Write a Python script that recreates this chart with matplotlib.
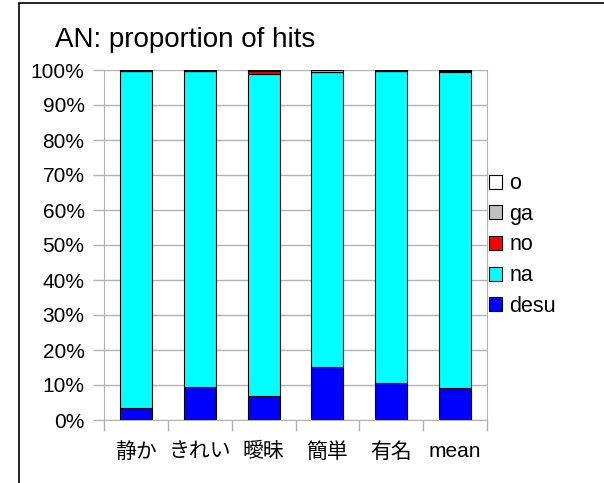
import numpy as np
import matplotlib
matplotlib.use("Agg")
import matplotlib.pyplot as plt
from matplotlib.patches import Rectangle

plt.rcParams['font.family'] = ['Liberation Sans', 'Noto Sans CJK JP', 'DejaVu Sans']

# data (percent of hits)
categories = ['静か', 'きれい', '曖昧', '簡単', '有名', 'mean']
desu = [3.4, 9.5, 6.9, 15.1, 10.5, 9.1]
no = [0.1, 0.1, 0.9, 0.2, 0.1, 0.2]
ga = [0.1, 0.2, 0.2, 0.4, 0.2, 0.3]
o = [0.1, 0.1, 0.1, 0.1, 0.1, 0.1]
na = [100 - a - b - c - d for a, b, c, d in zip(desu, no, ga, o)]

series = [('desu', desu, '#0000ff'),
          ('na', na, '#00ffff'),
          ('no', no, '#ff0000'),
          ('ga', ga, '#c0c0c0'),
          ('o', o, '#ffffff')]

W, H = 604, 483
fig = plt.figure(figsize=(W / 100, H / 100), dpi=100)
ax = fig.add_axes([104 / W, 1 - 420 / H, (487 - 104) / W, (420 - 70) / H])

x = np.arange(len(categories))
bottom = np.zeros(len(categories))
handles = []
for name, vals, col in series:
    b = ax.bar(x, vals, width=0.5, bottom=bottom, color=col,
               edgecolor='black', linewidth=0.8, label=name, zorder=3)
    handles.append(b)
    bottom += np.array(vals)

gray = '#b3b3b3'
ax.set_xlim(-0.5, len(categories) - 0.5)
ax.set_ylim(0, 100)
ax.set_yticks(np.arange(0, 101, 10))
ax.set_yticklabels([f'{v}%' for v in range(0, 101, 10)], fontsize=15)
ax.yaxis.grid(True, color=gray, linewidth=1, zorder=0)
ax.set_axisbelow(True)

ax.set_xticks(x)
ax.set_xticklabels(categories, fontsize=15)
ax.set_xticks(np.arange(-0.5, len(categories)), minor=True)
ax.tick_params(axis='x', which='major', length=0, pad=16)
ax.tick_params(axis='x', which='minor', length=8, color=gray, width=1)
ax.tick_params(axis='y', length=8, color=gray, width=1, pad=6)

for s in ['left', 'right', 'bottom']:
    ax.spines[s].set_color(gray)
ax.spines['top'].set_visible(False)

ax.legend(handles[::-1], [s[0] for s in series][::-1],
          loc='center left', bbox_to_anchor=(489 / W, 1 - 245 / H),
          bbox_transform=fig.transFigure, frameon=False, fontsize=15.5,
          borderpad=0, borderaxespad=0, handlelength=0.62, handleheight=0.62,
          handletextpad=0.32, labelspacing=0.45)

fig.text(55 / W, 1 - 40 / H, 'AN: proportion of hits', fontsize=20,
         va='center', ha='left')

# outer frame (cut at right and bottom)
fig.patches.append(Rectangle((19 / W, -0.1), 1.2, 1 - 3 / H + 0.1,
                             transform=fig.transFigure, fill=False,
                             edgecolor='black', linewidth=1.2))

fig.savefig('out.png', dpi=100)
